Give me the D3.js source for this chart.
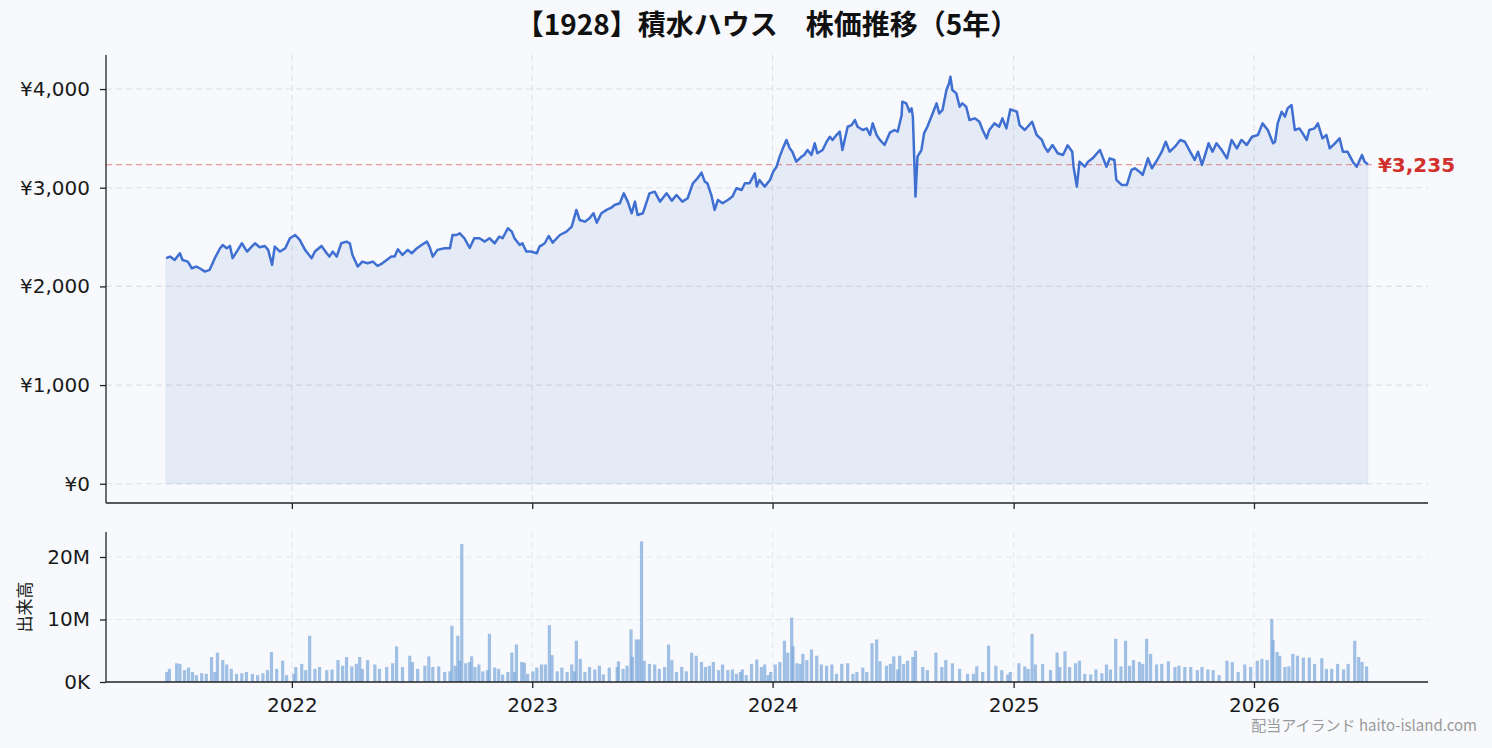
<!DOCTYPE html>
<html>
<head>
<meta charset="utf-8">
<script src="https://cdn.jsdelivr.net/npm/d3@7"></script>
<style>
  html, body { margin: 0; padding: 0; background: #f7f9fd; }
  svg { display: block; }
  text { font-family: "Noto Sans CJK JP", "Noto Sans", sans-serif; }
</style>
</head>
<body>
<svg id="chart" width="1492" height="748"></svg>
<script>
// 株価 (日付, 終値) 画像から読み取り
var priceSeries = [
["2021-06-24",2286],["2021-06-30",2302],["2021-07-07",2268],["2021-07-15",2336],["2021-07-19",2268],["2021-07-27",2251],["2021-08-02",2184],["2021-08-09",2201],["2021-08-14",2184],["2021-08-22",2150],["2021-08-29",2167],["2021-09-06",2286],["2021-09-14",2387],["2021-09-18",2420],["2021-09-24",2387],["2021-09-29",2410],["2021-10-03",2286],["2021-10-11",2370],["2021-10-17",2437],["2021-10-25",2353],["2021-11-01",2403],["2021-11-06",2437],["2021-11-13",2397],["2021-11-21",2410],["2021-11-26",2370],["2021-12-02",2218],["2021-12-06",2403],["2021-12-14",2353],["2021-12-22",2387],["2021-12-29",2488],
["2022-01-06",2521],["2022-01-13",2471],["2022-01-21",2370],["2022-01-25",2336],["2022-01-31",2286],["2022-02-05",2353],["2022-02-15",2410],["2022-02-23",2336],["2022-02-27",2302],["2022-03-04",2353],["2022-03-10",2302],["2022-03-17",2437],["2022-03-25",2454],["2022-03-30",2437],["2022-04-03",2319],["2022-04-11",2201],["2022-04-18",2251],["2022-04-26",2235],["2022-05-04",2251],["2022-05-11",2208],["2022-05-17",2228],["2022-05-25",2268],["2022-06-01",2302],["2022-06-06",2302],["2022-06-11",2376],["2022-06-18",2319],["2022-06-26",2370],["2022-07-02",2336],["2022-07-10",2387],["2022-07-17",2420],["2022-07-25",2454],["2022-07-29",2403],["2022-08-03",2302],["2022-08-10",2370],["2022-08-21",2387],["2022-08-29",2387],["2022-09-02",2521],["2022-09-08",2521],["2022-09-13",2538],["2022-09-20",2488],["2022-09-28",2390],["2022-10-05",2488],["2022-10-13",2488],["2022-10-21",2454],["2022-10-28",2488],["2022-11-05",2437],["2022-11-12",2505],["2022-11-17",2488],["2022-11-25",2589],["2022-12-01",2555],["2022-12-05",2488],["2022-12-13",2420],["2022-12-17",2437],["2022-12-23",2353],["2022-12-30",2353],
["2023-01-08",2336],["2023-01-12",2403],["2023-01-20",2437],["2023-01-26",2511],["2023-02-01",2444],["2023-02-12",2521],["2023-02-22",2555],["2023-03-02",2606],["2023-03-09",2775],["2023-03-14",2673],["2023-03-22",2656],["2023-03-29",2690],["2023-04-04",2741],["2023-04-09",2646],["2023-04-16",2741],["2023-04-24",2775],["2023-05-02",2802],["2023-05-06",2825],["2023-05-14",2842],["2023-05-20",2943],["2023-05-26",2859],["2023-06-01",2741],["2023-06-06",2859],["2023-06-10",2724],["2023-06-18",2741],["2023-06-28",2943],["2023-07-06",2960],["2023-07-14",2859],["2023-07-24",2943],["2023-08-01",2869],["2023-08-08",2926],["2023-08-17",2859],["2023-08-25",2893],["2023-09-02",3045],["2023-09-09",3096],["2023-09-15",3153],["2023-09-20",3062],["2023-09-24",3045],["2023-09-30",2926],["2023-10-05",2775],["2023-10-10",2876],["2023-10-17",2842],["2023-10-25",2876],["2023-11-01",2910],["2023-11-07",2994],["2023-11-15",2977],["2023-11-20",3045],["2023-11-27",3045],["2023-12-05",3146],["2023-12-08",3011],["2023-12-12",3079],["2023-12-20",3011],["2023-12-28",3079],
["2024-01-02",3163],["2024-01-07",3213],["2024-01-12",3320],["2024-01-16",3389],["2024-01-22",3484],["2024-01-27",3399],["2024-01-31",3365],["2024-02-06",3264],["2024-02-14",3315],["2024-02-18",3332],["2024-02-23",3382],["2024-02-29",3332],["2024-03-05",3450],["2024-03-09",3349],["2024-03-17",3382],["2024-03-23",3466],["2024-03-28",3517],["2024-04-01",3484],["2024-04-07",3534],["2024-04-12",3568],["2024-04-16",3382],["2024-04-24",3618],["2024-04-30",3635],["2024-05-05",3686],["2024-05-09",3618],["2024-05-17",3585],["2024-05-23",3601],["2024-05-28",3534],["2024-06-01",3652],["2024-06-07",3534],["2024-06-12",3484],["2024-06-19",3433],["2024-06-27",3558],["2024-07-04",3585],["2024-07-09",3568],["2024-07-15",3737],["2024-07-16",3872],["2024-07-22",3855],["2024-07-27",3770],["2024-07-30",3804],["2024-08-01",3720],["2024-08-05",2910],["2024-08-08",3315],["2024-08-14",3382],["2024-08-18",3551],["2024-08-23",3618],["2024-08-31",3753],["2024-09-06",3855],["2024-09-10",3753],["2024-09-15",3787],["2024-09-21",3990],["2024-09-25",4058],["2024-09-27",4125],["2024-09-30",3990],["2024-10-06",3956],["2024-10-11",3821],["2024-10-15",3855],["2024-10-21",3821],["2024-10-26",3686],["2024-11-03",3703],["2024-11-10",3669],["2024-11-15",3585],["2024-11-21",3500],["2024-11-25",3585],["2024-12-03",3652],["2024-12-10",3618],["2024-12-15",3703],["2024-12-21",3601],["2024-12-27",3794],
["2025-01-06",3770],["2025-01-10",3635],["2025-01-18",3585],["2025-01-29",3669],["2025-02-05",3534],["2025-02-13",3484],["2025-02-17",3416],["2025-02-22",3365],["2025-03-01",3433],["2025-03-09",3349],["2025-03-17",3332],["2025-03-24",3430],["2025-03-31",3365],["2025-04-02",3213],["2025-04-07",3011],["2025-04-11",3264],["2025-04-19",3213],["2025-04-24",3264],["2025-05-01",3298],["2025-05-12",3382],["2025-05-16",3315],["2025-05-22",3213],["2025-05-27",3298],["2025-06-03",3281],["2025-06-06",3079],["2025-06-14",3028],["2025-06-22",3028],["2025-06-29",3180],["2025-07-04",3197],["2025-07-11",3163],["2025-07-16",3129],["2025-07-24",3298],["2025-07-30",3197],["2025-08-07",3281],["2025-08-14",3365],["2025-08-20",3466],["2025-08-26",3365],["2025-09-03",3416],["2025-09-11",3484],["2025-09-18",3466],["2025-09-26",3365],["2025-10-03",3281],["2025-10-08",3365],["2025-10-14",3231],["2025-10-18",3315],["2025-10-24",3450],["2025-10-30",3365],["2025-11-05",3450],["2025-11-13",3382],["2025-11-21",3298],["2025-11-28",3484],["2025-12-06",3399],["2025-12-13",3484],["2025-12-21",3433],["2025-12-29",3517],
["2026-01-07",3534],["2026-01-14",3652],["2026-01-22",3585],["2026-01-30",3450],["2026-02-02",3466],["2026-02-06",3652],["2026-02-12",3770],["2026-02-17",3720],["2026-02-21",3804],["2026-02-27",3838],["2026-03-04",3585],["2026-03-11",3601],["2026-03-16",3551],["2026-03-22",3484],["2026-03-26",3585],["2026-04-03",3601],["2026-04-08",3652],["2026-04-15",3500],["2026-04-21",3534],["2026-04-26",3399],["2026-05-04",3450],["2026-05-11",3500],["2026-05-16",3365],["2026-05-23",3365],["2026-05-31",3264],["2026-06-06",3213],["2026-06-14",3332],["2026-06-18",3264],["2026-06-23",3235]
];

// 出来高 (日付, 百万株)
var volumeSeries = [
["2021-06-25",1.6],["2021-06-29",2.1],["2021-07-10",3.0],["2021-07-15",2.9],["2021-07-22",1.9],["2021-07-28",2.3],["2021-08-03",1.6],["2021-08-09",1.1],["2021-08-17",1.4],["2021-08-24",1.3],["2021-09-01",4.0],["2021-09-06",1.6],["2021-09-10",4.7],["2021-09-18",3.5],["2021-09-24",2.8],["2021-10-01",2.1],["2021-10-09",1.3],["2021-10-17",1.4],["2021-10-24",1.6],["2021-11-02",1.3],["2021-11-10",1.1],["2021-11-18",1.4],["2021-11-25",1.9],["2021-12-01",4.8],["2021-12-09",2.1],["2021-12-18",3.4],["2021-12-24",1.1],
["2022-01-04",1.3],["2022-01-07",2.4],["2022-01-16",2.9],["2022-01-22",1.9],["2022-01-28",7.4],["2022-02-05",2.1],["2022-02-12",2.4],["2022-02-23",1.9],["2022-03-03",2.0],["2022-03-12",3.5],["2022-03-19",2.6],["2022-03-25",4.0],["2022-04-02",2.5],["2022-04-09",2.9],["2022-04-14",4.0],["2022-04-18",2.1],["2022-04-26",3.5],["2022-05-07",2.8],["2022-05-14",2.1],["2022-05-25",2.4],["2022-06-03",3.0],["2022-06-09",5.7],["2022-06-18",2.4],["2022-06-29",4.2],["2022-07-03",3.2],["2022-07-11",2.1],["2022-07-22",2.6],["2022-07-28",4.1],["2022-08-03",2.4],["2022-08-12",2.5],["2022-08-21",1.6],["2022-08-29",1.7],["2022-09-01",9.0],["2022-09-06",2.6],["2022-09-10",7.4],["2022-09-13",3.4],["2022-09-16",22.1],["2022-09-22",3.0],["2022-09-28",3.2],["2022-10-01",4.1],["2022-10-06",2.4],["2022-10-12",2.8],["2022-10-18",1.7],["2022-10-25",1.9],["2022-10-28",7.7],["2022-11-05",2.3],["2022-11-11",2.1],["2022-11-17",1.2],["2022-11-25",1.6],["2022-12-01",4.7],["2022-12-05",1.6],["2022-12-08",6.0],["2022-12-16",3.2],["2022-12-20",3.1],["2022-12-25",1.3],
["2023-01-02",1.7],["2023-01-08",2.3],["2023-01-15",2.8],["2023-01-21",2.8],["2023-01-27",9.1],["2023-01-31",4.3],["2023-02-08",1.7],["2023-02-15",2.3],["2023-02-23",1.6],["2023-03-02",2.8],["2023-03-06",1.7],["2023-03-09",6.6],["2023-03-15",3.7],["2023-03-22",1.6],["2023-03-29",2.4],["2023-04-06",2.0],["2023-04-13",2.6],["2023-04-19",1.2],["2023-04-28",2.3],["2023-05-10",2.4],["2023-05-12",3.3],["2023-05-19",2.1],["2023-05-25",2.6],["2023-05-31",8.4],["2023-06-02",4.0],["2023-06-08",6.8],["2023-06-12",6.8],["2023-06-16",22.5],["2023-06-20",3.4],["2023-06-28",2.9],["2023-07-06",2.8],["2023-07-13",2.1],["2023-07-21",2.4],["2023-07-27",6.0],["2023-08-01",3.5],["2023-08-08",1.6],["2023-08-16",2.4],["2023-08-23",1.7],["2023-08-31",4.7],["2023-09-07",4.2],["2023-09-15",3.2],["2023-09-21",2.4],["2023-09-27",2.6],["2023-10-03",3.2],["2023-10-11",1.9],["2023-10-17",2.8],["2023-10-25",1.9],["2023-11-01",2.0],["2023-11-07",1.3],["2023-11-13",1.6],["2023-11-16",2.0],["2023-11-22",1.1],["2023-11-30",2.9],["2023-12-08",3.6],["2023-12-15",2.4],["2023-12-20",2.8],["2023-12-25",1.1],["2023-12-29",1.6],
["2024-01-05",2.8],["2024-01-12",3.2],["2024-01-19",6.6],["2024-01-24",4.7],["2024-01-30",10.3],["2024-02-01",5.7],["2024-02-07",3.0],["2024-02-12",2.9],["2024-02-16",4.5],["2024-02-22",3.5],["2024-02-29",5.2],["2024-03-08",4.2],["2024-03-15",2.8],["2024-03-23",2.6],["2024-03-31",2.8],["2024-04-07",1.3],["2024-04-15",2.9],["2024-04-24",3.0],["2024-05-02",1.3],["2024-05-08",1.6],["2024-05-17",2.3],["2024-05-23",1.6],["2024-05-31",6.2],["2024-06-07",6.8],["2024-06-12",3.3],["2024-06-22",2.6],["2024-06-28",2.9],["2024-07-03",4.1],["2024-07-09",2.0],["2024-07-12",4.2],["2024-07-18",2.9],["2024-07-24",3.4],["2024-08-01",4.0],["2024-08-05",5.0],["2024-08-16",2.4],["2024-08-23",1.9],["2024-09-05",4.7],["2024-09-14",2.4],["2024-09-20",3.5],["2024-09-30",3.0],["2024-10-11",2.1],["2024-10-23",1.3],["2024-11-01",1.3],["2024-11-06",2.5],["2024-11-15",1.6],["2024-11-24",5.8],["2024-12-05",2.6],["2024-12-14",1.9],["2024-12-23",1.2],["2024-12-27",1.6],
["2025-01-09",3.0],["2025-01-18",2.5],["2025-01-23",2.1],["2025-01-29",7.7],["2025-02-03",2.8],["2025-02-14",2.9],["2025-02-26",1.9],["2025-03-08",4.7],["2025-03-12",2.4],["2025-03-20",4.9],["2025-03-27",2.4],["2025-04-05",3.0],["2025-04-11",3.4],["2025-04-19",1.3],["2025-04-28",1.2],["2025-05-06",2.0],["2025-05-15",1.4],["2025-05-22",2.8],["2025-05-28",2.0],["2025-06-05",6.9],["2025-06-13",2.5],["2025-06-20",6.6],["2025-06-26",2.6],["2025-07-02",3.5],["2025-07-11",3.2],["2025-07-16",2.9],["2025-07-22",6.9],["2025-07-28",4.5],["2025-08-06",2.8],["2025-08-14",2.9],["2025-08-24",3.3],["2025-09-03",2.4],["2025-09-09",2.6],["2025-09-18",2.4],["2025-09-27",2.4],["2025-10-07",1.9],["2025-10-14",2.4],["2025-10-23",2.0],["2025-10-31",1.9],["2025-11-09",1.1],["2025-11-21",3.4],["2025-11-29",3.2],["2025-12-08",1.6],["2025-12-18",2.8],["2025-12-27",2.4],
["2026-01-06",3.4],["2026-01-13",3.7],["2026-01-21",3.5],["2026-01-28",10.1],["2026-01-30",6.7],["2026-02-05",4.8],["2026-02-09",4.2],["2026-02-17",2.4],["2026-02-23",2.5],["2026-03-01",4.5],["2026-03-08",4.2],["2026-03-17",3.9],["2026-03-26",3.9],["2026-04-03",2.9],["2026-04-14",3.8],["2026-04-21",2.1],["2026-04-29",2.1],["2026-05-08",2.9],["2026-05-17",2.0],["2026-05-24",2.9],["2026-06-03",6.6],["2026-06-09",4.0],["2026-06-14",3.2],["2026-06-21",2.5]
];

var yearTicks = ["2022-01-01","2023-01-01","2024-01-01","2025-01-01","2026-01-01"];
var yearLabels = ["2022","2023","2024","2025","2026"];
var priceTicks = [0, 1000, 2000, 3000, 4000];
var volumeTicks = [0, 10, 20];
var currentPrice = 3235;
var titleText = "【1928】積水ハウス　株価推移（5年）";

// レイアウト
var L = 106, R = 1428;
var pTop = 55, pBot = 503;
var vTop = 532, vBot = 682;
var numFont = "'DejaVu Sans', sans-serif";

var parse = d3.timeParse("%Y-%m-%d");
var prices = priceSeries.map(function(d) { return {date: parse(d[0]), v: d[1]}; });
var vols = volumeSeries.map(function(d) { return {date: parse(d[0]), v: d[1]}; });

var ext = d3.extent(prices, function(d) { return d.date; });
var pad = (ext[1] - ext[0]) * 0.05;
var x = d3.scaleTime()
    .domain([new Date(+ext[0] - pad), new Date(+ext[1] + pad)])
    .range([L, R]);
var y = d3.scaleLinear().domain([-195, 4345]).range([pBot, pTop]);
var yv = d3.scaleLinear().domain([0, 24]).range([vBot, vTop]);

var svg = d3.select("#chart");
var gridCol = "#dcdfe6";

// タイトル
svg.append("text")
    .attr("x", (L + R) / 2).attr("y", 35)
    .attr("text-anchor", "middle")
    .style("font-size", "28px").style("font-weight", "bold").style("fill", "#111")
    .text(titleText);

// グリッド (価格)
var gp = svg.append("g");
gp.selectAll("line.h").data(priceTicks).enter().append("line")
    .attr("x1", L).attr("x2", R)
    .attr("y1", function(d) { return y(d); }).attr("y2", function(d) { return y(d); })
    .attr("stroke", gridCol).attr("stroke-width", 1.1).attr("stroke-dasharray", "6,4");
gp.selectAll("line.v").data(yearTicks).enter().append("line")
    .attr("y1", pTop).attr("y2", pBot)
    .attr("x1", function(d) { return x(parse(d)); }).attr("x2", function(d) { return x(parse(d)); })
    .attr("stroke", gridCol).attr("stroke-width", 1.1).attr("stroke-dasharray", "6,4");

// グリッド (出来高)
var gv = svg.append("g");
gv.selectAll("line.h").data(volumeTicks.slice(1)).enter().append("line")
    .attr("x1", L).attr("x2", R)
    .attr("y1", function(d) { return yv(d); }).attr("y2", function(d) { return yv(d); })
    .attr("stroke", "#e6e8ed").attr("stroke-width", 1.1).attr("stroke-dasharray", "6,4");
gv.selectAll("line.v").data(yearTicks).enter().append("line")
    .attr("y1", vTop).attr("y2", vBot)
    .attr("x1", function(d) { return x(parse(d)); }).attr("x2", function(d) { return x(parse(d)); })
    .attr("stroke", "#e6e8ed").attr("stroke-width", 1.1).attr("stroke-dasharray", "6,4");

// 面
var area = d3.area()
    .x(function(d) { return x(d.date); })
    .y0(y(0))
    .y1(function(d) { return y(d.v); });
svg.append("path").datum(prices)
    .attr("d", area)
    .attr("fill", "#4472c4").attr("fill-opacity", 0.1)
    .attr("stroke", "#4472c4").attr("stroke-opacity", 0.08);

// 現在値ライン
svg.append("line")
    .attr("x1", L).attr("x2", x(prices[prices.length - 1].date) + 4)
    .attr("y1", y(currentPrice)).attr("y2", y(currentPrice))
    .attr("stroke", "#d9534f").attr("stroke-opacity", 0.55)
    .attr("stroke-width", 1.2).attr("stroke-dasharray", "6,4");

// 株価ライン
var line = d3.line()
    .x(function(d) { return x(d.date); })
    .y(function(d) { return y(d.v); });
svg.append("path").datum(prices)
    .attr("d", line)
    .attr("fill", "none").attr("stroke", "#3f6fd1").attr("stroke-width", 2.5)
    .attr("stroke-linejoin", "round");

svg.append("text")
    .attr("x", x(prices[prices.length - 1].date) + 10)
    .attr("y", y(currentPrice) + 7)
    .style("font-family", numFont)
    .style("font-size", "20px").style("font-weight", "bold").style("fill", "#d0312d")
    .text("¥" + d3.format(",")(currentPrice));

// 出来高バー
svg.append("g").selectAll("rect").data(vols).enter().append("rect")
    .attr("x", function(d) { return x(d.date) - 1.6; })
    .attr("width", 3.2)
    .attr("y", function(d) { return yv(d.v); })
    .attr("height", function(d) { return yv(0) - yv(d.v); })
    .attr("fill", "#7aa7da").attr("fill-opacity", 0.7);

// 軸
var axisCol = "#222";
function styleAxis(g) {
    g.select(".domain").remove();
    g.selectAll(".tick line").attr("stroke", axisCol).attr("stroke-width", 1.3);
    g.selectAll(".tick text").style("font-size", "20px").style("fill", "#1a1a1a")
        .style("font-family", numFont);
}

svg.append("g").attr("transform", "translate(" + L + ",0)")
    .call(d3.axisLeft(y).tickValues(priceTicks).tickSize(6).tickPadding(10)
        .tickFormat(function(d) { return "¥" + d3.format(",")(d); }))
    .call(styleAxis);
svg.append("g").attr("transform", "translate(" + L + ",0)")
    .call(d3.axisLeft(yv).tickValues(volumeTicks).tickSize(6).tickPadding(10)
        .tickFormat(function(d) { return d === 0 ? "0K" : d + "M"; }))
    .call(styleAxis);

var yearDates = yearTicks.map(parse);
svg.append("g").attr("transform", "translate(0," + pBot + ")")
    .call(d3.axisBottom(x).tickValues(yearDates).tickSize(6).tickFormat(""))
    .call(styleAxis);
svg.append("g").attr("transform", "translate(0," + vBot + ")")
    .call(d3.axisBottom(x).tickValues(yearDates).tickSize(6).tickPadding(10)
        .tickFormat(function(d, i) { return yearLabels[i]; }))
    .call(styleAxis);

// 枠線 (左・下のみ)
[[pTop, pBot], [vTop, vBot]].forEach(function(p) {
    svg.append("line").attr("x1", L).attr("x2", L).attr("y1", p[0]).attr("y2", p[1])
        .attr("stroke", axisCol).attr("stroke-width", 1.3);
    svg.append("line").attr("x1", L).attr("x2", R).attr("y1", p[1]).attr("y2", p[1])
        .attr("stroke", axisCol).attr("stroke-width", 1.3);
});

// 出来高ラベル
svg.append("text")
    .attr("transform", "translate(31," + ((vTop + vBot) / 2) + ") rotate(-90)")
    .attr("text-anchor", "middle")
    .style("font-size", "17px").style("fill", "#1a1a1a")
    .text("出来高");

// ウォーターマーク
svg.append("text")
    .attr("x", 1477).attr("y", 731)
    .attr("text-anchor", "end")
    .style("font-size", "15px").style("fill", "#9a9a9a")
    .text("配当アイランド haito-island.com");
</script>
</body>
</html>
